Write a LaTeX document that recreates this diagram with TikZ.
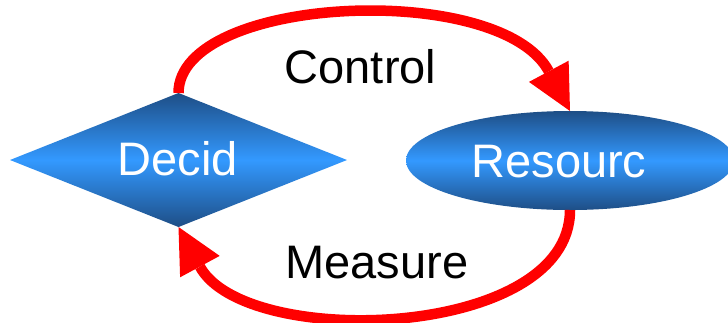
\documentclass[tikz,border=0pt]{standalone}
\usepackage{fontspec}
\setmainfont{Liberation Sans}
\usetikzlibrary{shapes.geometric,arrows.meta}
\definecolor{dkblue}{RGB}{30,78,134}
\definecolor{ltblue}{RGB}{51,153,255}
\definecolor{flowred}{RGB}{255,0,0}
\tikzset{
  blueshade/.style={top color=dkblue,bottom color=dkblue,middle color=ltblue,draw=none,inner sep=0pt,outer sep=0pt},
  decisionbox/.style={blueshade,diamond,shape aspect=2.515,minimum width=337pt,minimum height=134pt},
  resourcebox/.style={blueshade,ellipse,minimum width=328pt,minimum height=99pt},
  bigtext/.style={font=\fontsize{47}{50}\selectfont,inner sep=0pt,anchor=base},
  flow/.style={draw=flowred,line width=10.5pt,-{Triangle[length=45pt,width=45pt,line width=0pt]}}
}
\begin{document}
\begin{tikzpicture}[x=1pt,y=-1pt]
\useasboundingbox (0,0) rectangle (728,322);
\clip (0,0) rectangle (728,322);
\node[decisionbox] (D) at (178.5,160) {};
\node[resourcebox] (R) at (570,160.5) {};
\node[bigtext,text=white] (Dt) at (178,175) {Decid};
\node[bigtext,text=white] (Rt) at (559,177) {Resourc};
\node[bigtext] (C) at (360.5,83) {Control};
\node[bigtext] (M) at (377,278) {Measure};
\draw[flow] (D.north) .. controls (178.5,-5) and (500,-20) .. (R.north);
\draw[flow] (R.south) .. controls (570,340) and (245,350) .. (D.south);
\end{tikzpicture}
\end{document}
